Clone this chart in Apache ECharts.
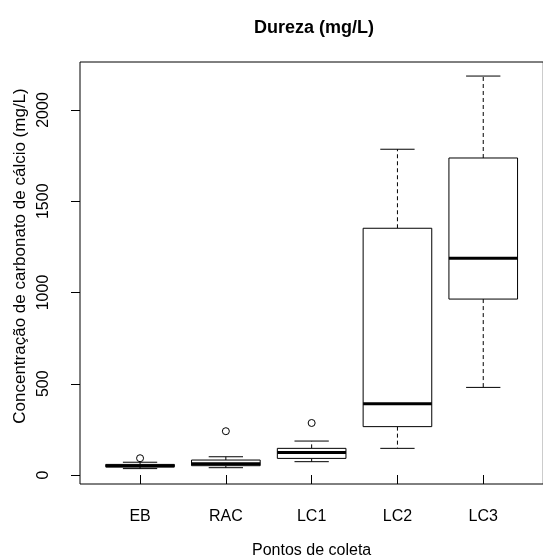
<!DOCTYPE html>
<html>
<head>
<meta charset="utf-8">
<script src="https://cdn.jsdelivr.net/npm/echarts@6/dist/echarts.min.js"></script>
<style>
html,body{margin:0;padding:0;background:#fff;}
#chart{width:543px;height:559px;}
</style>
</head>
<body>
<div id="chart"></div>
<script>
// ---- data ----
var categories = ['EB', 'RAC', 'LC1', 'LC2', 'LC3'];
var whiskerLow  = [35, 40, 73, 146, 480];
var q1          = [45, 51, 91, 265, 964];
var medians     = [50, 62, 123, 391, 1187];
var q3          = [58, 82, 146, 1352, 1737];
var whiskerHigh = [70, 100, 186, 1785, 2186];
var outlierCat  = [1, 2, 3];
var outlierVal  = [92, 240, 285];
var yTicks = [0, 500, 1000, 1500, 2000];
var xTicks = [1, 2, 3, 4, 5];

// ---- build ----
var boxData = categories.map(function (c, i) {
  return [i + 1, whiskerLow[i], q1[i], medians[i], q3[i], whiskerHigh[i]];
});
var outData = outlierCat.map(function (c, i) { return [c, outlierVal[i]]; });

var FONT = 'Liberation Sans, Arial, sans-serif';
var chart = echarts.init(document.getElementById('chart'), null, {renderer: 'canvas'});

function renderBox(params, api) {
  var x = api.value(0);
  var lo = api.value(1), a = api.value(2), m = api.value(3), b = api.value(4), hi = api.value(5);
  var half = 0.4, cap = 0.2;
  var pLo = api.coord([x, lo]), pA = api.coord([x, a]), pM = api.coord([x, m]);
  var pB = api.coord([x, b]), pHi = api.coord([x, hi]);
  var xl = api.coord([x - half, 0])[0], xr = api.coord([x + half, 0])[0];
  var cl = api.coord([x - cap, 0])[0], cr = api.coord([x + cap, 0])[0];
  var cx = pA[0];
  var line = {stroke: '#000', lineWidth: 1};
  var dash = {stroke: '#000', lineWidth: 1, lineDash: [4, 3]};
  return {
    type: 'group',
    children: [
      {type: 'line', shape: {x1: cx, y1: pB[1], x2: cx, y2: pHi[1]}, style: dash},
      {type: 'line', shape: {x1: cx, y1: pA[1], x2: cx, y2: pLo[1]}, style: dash},
      {type: 'line', shape: {x1: cl, y1: pHi[1], x2: cr, y2: pHi[1]}, style: line},
      {type: 'line', shape: {x1: cl, y1: pLo[1], x2: cr, y2: pLo[1]}, style: line},
      {type: 'rect', shape: {x: xl, y: pB[1], width: xr - xl, height: pA[1] - pB[1]},
        style: {fill: '#fff', stroke: '#000', lineWidth: 1}},
      {type: 'line', shape: {x1: xl, y1: pM[1], x2: xr, y2: pM[1]}, style: {stroke: '#000', lineWidth: 3}}
    ]
  };
}

var option = {
  animation: false,
  backgroundColor: '#fff',
  graphic: [{
    type: 'text', x: 314, y: 28,
    style: {text: 'Dureza (mg/L)', font: 'bold 18px ' + FONT, fill: '#000', align: 'center', verticalAlign: 'middle'}
  }, {
    type: 'text', x: 20, y: 256, rotation: Math.PI / 2,
    style: {text: 'Concentração de carbonato de cálcio (mg/L)', font: '17px ' + FONT, fill: '#000', align: 'center', verticalAlign: 'middle'}
  }],
  grid: {left: 80, top: 62, width: 463.3, height: 422, outerBoundsMode: 'none', containLabel: false,
    show: true, borderColor: '#000', borderWidth: 1, backgroundColor: 'transparent'},
  xAxis: {
    type: 'value', min: 0.3, max: 5.7,
    name: 'Pontos de coleta', nameLocation: 'middle', nameGap: 59,
    nameTextStyle: {fontFamily: FONT, fontSize: 16, color: '#000'},
    axisLine: {show: false},
    splitLine: {show: false},
    axisTick: {show: true, length: 9, customValues: xTicks, lineStyle: {color: '#000'}},
    axisLabel: {show: true, customValues: xTicks, margin: 25, fontFamily: FONT, fontSize: 16, color: '#000',
      formatter: function (v) { return categories[Math.round(v) - 1] || ''; }}
  },
  yAxis: {
    type: 'value', min: -49.3, max: 2263,
    axisLine: {show: false},
    splitLine: {show: false},
    axisTick: {show: true, length: 9, customValues: yTicks, lineStyle: {color: '#000'}},
    axisLabel: {show: true, customValues: yTicks, rotate: 90, margin: 28, fontFamily: FONT, fontSize: 16, color: '#000',
      formatter: function (v) { return String(Math.round(v)); }}
  },
  series: [
    {type: 'custom', renderItem: renderBox, data: boxData, encode: {x: 0, y: [1, 2, 3, 4, 5]}, clip: false, silent: true, z: 2},
    {type: 'scatter', data: outData, symbol: 'circle', symbolSize: 7, z: 3,
      itemStyle: {color: 'rgba(0,0,0,0)', borderColor: '#000', borderWidth: 1, opacity: 1}, silent: true}
  ]
};
chart.setOption(option);
</script>
</body>
</html>
